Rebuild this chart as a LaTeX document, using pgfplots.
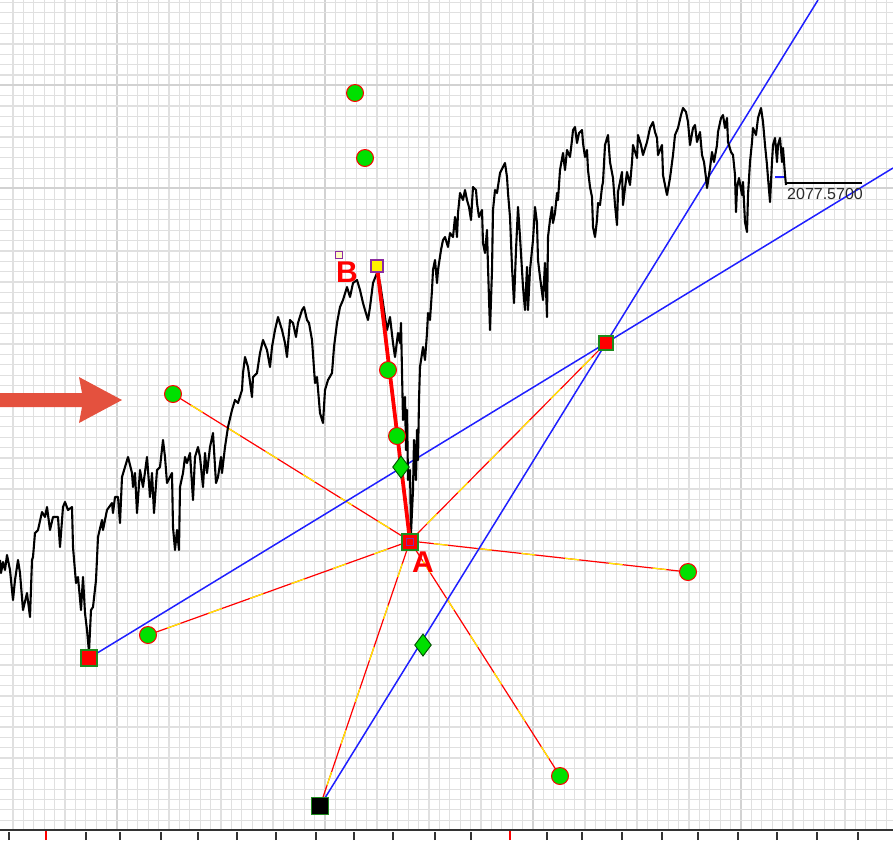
\documentclass[border=0pt]{standalone}
\usepackage{pgfplots}
\pgfplotsset{compat=1.18}
\usepackage{fontspec}
\setmainfont{Liberation Sans}
\definecolor{gridminor}{HTML}{E0E0E0}
\definecolor{gridmajor}{HTML}{D2D2D2}
\definecolor{mkgreen}{HTML}{00E000}
\definecolor{bdgreen}{HTML}{1E8C1E}
\definecolor{arrowred}{HTML}{E4513E}
\definecolor{purp}{HTML}{8B2BA0}
\definecolor{lblgray}{HTML}{2A2A2A}
\definecolor{myblue}{HTML}{1F1FFF}
\begin{document}
\begin{tikzpicture}
\useasboundingbox (0,0) rectangle (893pt,-840pt);
% ---------- grid ----------
\begin{axis}[at={(0pt,0pt)}, anchor=north west, scale only axis, width=893pt, height=830pt,
  xmin=0, xmax=893, ymin=0, ymax=830, y dir=reverse,
  xtick={117,325,533,741}, minor xtick={13,23.4,...,893},
  ytick={85,188}, minor ytick={2.5,12.85,...,830},
  xticklabels={}, yticklabels={}, major tick length=0pt, minor tick length=0pt,
  grid=both, minor grid style={gridminor, line width=1.2pt}, major grid style={gridmajor, line width=1.3pt},
  axis line style={draw=none}]
\addplot[draw=none] coordinates {(0,0)};
\end{axis}
% ---------- time axis ----------
\begin{axis}[at={(0pt,0pt)}, anchor=north west, scale only axis, width=893pt, height=840pt,
  xmin=0, xmax=893, ymin=0, ymax=840,
  xtick={9,86,120,161,198,237,276,316,354,393,435,471,547,582,622,662,698,738,777,817,858},
  xticklabels={}, ytick=\empty, xtick pos=left, tick align=inside,
  major tick length=8pt, tick style={black!80, line width=1.5pt}, axis line style={draw=none},
  extra x ticks={46,510}, extra x tick labels={},
  extra x tick style={tick style={red, line width=1.5pt}, major tick length=10pt}]
\addplot[black!80, line width=1.6pt] coordinates {(0,10) (893,10)};
\end{axis}
% ---------- chart ----------
\begin{axis}[at={(0pt,0pt)}, anchor=north west, scale only axis, width=893pt, height=840pt,
  xmin=0, xmax=893, ymin=0, ymax=840, y dir=reverse, hide axis, clip=true,
  ray/.style={red, line width=1.2pt},
  rayy/.style={yellow, line width=1.2pt, dash pattern=on 14pt off 30pt, dash phase=20pt}]
% arrow
\addplot[fill=arrowred, draw=none] coordinates {(0,393) (82,393) (79,377) (122,400) (79,423) (82,407) (0,407)};
% rays from A
\addplot[ray] coordinates {(410,541) (173,394)};
\addplot[rayy] coordinates {(410,541) (173,394)};
\addplot[ray] coordinates {(410,541) (148,635)};
\addplot[rayy] coordinates {(410,541) (148,635)};
\addplot[ray] coordinates {(410,541) (320,806)};
\addplot[rayy] coordinates {(410,541) (320,806)};
\addplot[ray] coordinates {(410,541) (560,776)};
\addplot[rayy] coordinates {(410,541) (560,776)};
\addplot[ray] coordinates {(410,541) (688,572)};
\addplot[rayy] coordinates {(410,541) (688,572)};
\addplot[ray] coordinates {(410,541) (606,343)};
\addplot[rayy] coordinates {(410,541) (606,343)};
% blue lines
\addplot[myblue, line width=1.5pt] coordinates {(89,658) (893,168)};
\addplot[myblue, line width=1.5pt] coordinates {(320,806) (818,0)};
\addplot[myblue, line width=1.5pt] coordinates {(775,177) (786,177)};
\addplot[black, line width=1.1pt] coordinates {(786,183) (862,183)};
% circles
\addplot[only marks, mark=*, mark size=8.5pt, mark options={fill=mkgreen, draw=red, line width=1pt}]
 coordinates {(355,93) (365,158) (173,394) (148,635) (688,572) (560,776) (388,370) (397,436)};
% price series
\addplot[black, line width=2.1pt, line join=round] coordinates {
(0,560) (1,573) (3,562) (5,570) (7,555) (10,570) (13,600) (15,580) (18,560) (20,573) (23,610) (27,593)
(30,617) (32,560) (33,557) (35,533) (38,530) (42,512) (45,517) (47,507) (50,530) (53,517) (58,517)
(60,547) (63,507) (65,502) (68,510) (72,507) (73,547) (76,583) (78,577) (81,610) (83,577) (85,613)
(87,630) (89,652) (91,610) (93,607) (96,580) (98,537) (102,520) (103,530) (107,510) (112,503)
(113,513) (115,497) (118,497) (120,523) (122,477) (125,467) (128,457) (132,473) (133,487) (135,473)
(137,513) (140,470) (143,487) (147,457) (148,470) (150,497) (152,473) (154,513) (157,470) (160,467)
(163,440) (165,457) (167,483) (172,473) (173,527) (175,550) (177,530) (179,550) (180,487) (183,473)
(185,457) (187,463) (190,453) (193,500) (195,457) (198,447) (200,457) (203,487) (205,453) (207,473)
(210,447) (213,433) (216,483) (218,477) (221,457) (222,473) (225,447) (228,427) (232,410) (235,400)
(238,403) (242,390) (243,373) (245,357) (248,367) (252,397) (253,377) (257,373) (260,353) (263,340)
(267,350) (270,367) (272,347) (275,330) (278,317) (282,330) (285,343) (287,357) (290,320) (293,323)
(296,337) (298,323) (302,310) (304,307) (307,320) (309,323) (312,340) (315,383) (317,377) (320,413)
(323,423) (325,390) (328,380) (332,373) (334,347) (337,323) (340,307) (343,300) (347,287) (350,297)
(353,283) (357,280) (360,290) (363,303) (365,310) (368,320) (370,307) (373,283) (377,273) (380,283)
(383,303) (385,317) (387,330) (390,317) (393,343) (395,357) (398,333) (400,343) (401,323) (403,420)
(405,397) (406,450) (407,410) (408,480) (410,470) (411,533) (413,490) (414,440) (416,480) (417,430)
(418,460) (419,400) (420,367) (423,347) (425,360) (427,333) (428,313) (430,320) (432,290) (433,270)
(435,260) (437,283) (438,270) (441,250) (443,240) (445,237) (448,247) (450,233) (453,237) (455,217)
(457,237) (458,213) (460,193) (463,200) (465,190) (467,200) (469,207) (471,220) (473,187) (476,190)
(477,203) (479,217) (482,210) (483,243) (485,253) (487,230) (488,267) (490,330) (492,270) (493,210)
(495,190) (497,193) (500,173) (503,167) (505,163) (507,177) (508,193) (510,217) (512,267) (514,303)
(516,250) (518,207) (520,237) (523,287) (525,310) (527,267) (528,310) (530,270) (533,240) (535,207)
(537,223) (538,260) (540,277) (543,300) (545,263) (547,317) (548,237) (550,220) (552,207) (553,223)
(555,213) (557,193) (558,200) (560,170) (563,153) (565,170) (567,150) (570,157) (572,140) (573,130)
(575,127) (577,143) (579,133) (582,130) (583,143) (585,157) (587,150) (588,170) (590,187) (592,197)
(593,227) (595,237) (597,220) (598,203) (600,205) (602,187) (603,182) (605,145) (608,135) (610,162)
(613,178) (615,205) (617,225) (618,192) (622,172) (623,205) (625,188) (627,172) (630,185) (632,162)
(633,145) (637,158) (638,135) (641,145) (643,155) (647,142) (650,128) (653,122) (655,132) (657,138)
(658,155) (662,145) (663,175) (667,195) (670,178) (673,155) (675,135) (678,128) (681,115) (683,108)
(686,112) (688,122) (690,145) (693,128) (695,125) (697,142) (700,132) (702,155) (704,162) (706,178)
(707,188) (710,168) (712,152) (714,162) (717,145) (718,132) (721,118) (723,115) (725,128) (727,118)
(728,142) (731,152) (733,155) (735,175) (736,212) (737,188) (739,178) (742,195) (743,182) (745,222)
(747,232) (748,195) (750,162) (752,142) (753,128) (756,135) (758,118) (761,108) (763,122) (765,145)
(767,165) (768,178) (770,202) (772,162) (773,145) (775,138) (777,162) (778,145) (780,138) (782,162)
(783,148) (785,175) (786,185)};
% B-A line
\addplot[red, line width=3.8pt] coordinates {(377,266) (410,541)};
% diamonds
\addplot[only marks, mark=diamond*, mark size=11pt, mark options={fill=mkgreen, draw=black!70!green, line width=0.9pt}]
 coordinates {(401,467) (423,645)};
% squares
\addplot[only marks, mark=square*, mark size=8pt, mark options={fill=red, draw=bdgreen, line width=1.5pt}]
 coordinates {(89,658) (410,542)};
\addplot[only marks, mark=square*, mark size=7pt, mark options={fill=red, draw=bdgreen, line width=1.5pt}]
 coordinates {(606,343)};
\addplot[only marks, mark=square*, mark size=8.5pt, mark options={fill=black, draw=bdgreen, line width=1.5pt}]
 coordinates {(320,806)};
\addplot[only marks, mark=square, mark size=3.5pt, mark options={draw=purp, line width=1.1pt}]
 coordinates {(410,542)};
\addplot[only marks, mark=square*, mark size=6pt, mark options={fill=yellow, draw=purp, line width=1.6pt}]
 coordinates {(377,266)};
\addplot[only marks, mark=square*, mark size=3.2pt, mark options={fill=yellow!25, draw=purp, line width=1.3pt}]
 coordinates {(339,255)};
% labels
\node[text=red, font=\bfseries\fontsize{30}{30}\selectfont, inner sep=0pt] at (axis cs:347,272) {B};
\node[text=red, font=\bfseries\fontsize{30}{30}\selectfont, inner sep=0pt] at (axis cs:423,562) {A};
\node[anchor=west, text=lblgray, font=\fontsize{16}{16}\selectfont, inner sep=0pt] at (axis cs:787,194) {2077.5700};
\end{axis}
\end{tikzpicture}
\end{document}
